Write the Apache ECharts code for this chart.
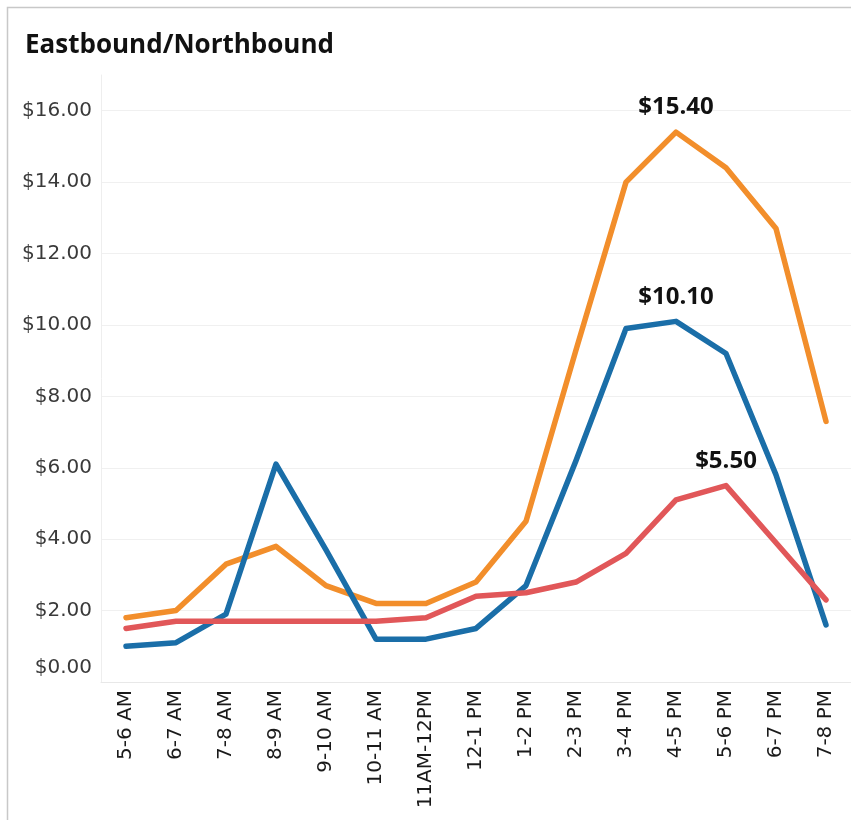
<html>
<head>
    <meta charset='UTF-8'>
    <script src='https://cdn.jsdelivr.net/npm/echarts@6/dist/echarts.min.js'></script>
    <style>
        html, body { margin: 0; padding: 0; background: #fff; }
        #chart { width: 851px; height: 820px; }
    </style>
</head>
<body>
    <div id="chart"></div>
    <script>
        // hour buckets
        const hours = ['5-6 AM', '6-7 AM', '7-8 AM', '8-9 AM', '9-10 AM', '10-11 AM', '11AM-12PM',
            '12-1 PM', '1-2 PM', '2-3 PM', '3-4 PM', '4-5 PM', '5-6 PM', '6-7 PM', '7-8 PM']

        // toll per segment
        const orangeToll = [1.8, 2.0, 3.3, 3.8, 2.7, 2.2, 2.2, 2.8, 4.5, 9.3, 14.0, 15.4, 14.4, 12.7, 7.3]
        const blueToll = [1.0, 1.1, 1.9, 6.1, 3.7, 1.2, 1.2, 1.5, 2.7, 6.2, 9.9, 10.1, 9.2, 5.8, 1.6]
        const redToll = [1.5, 1.7, 1.7, 1.7, 1.7, 1.7, 1.8, 2.4, 2.5, 2.8, 3.6, 5.1, 5.5, 3.9, 2.3]

        const yTicks = { min: 0, max: 17, interval: 2 }

        const money = v => '$' + v.toFixed(2)

        function lineSeries(name, data, color) {
            const top = Math.max(...data)
            return {
                name: name,
                type: 'line',
                data: data,
                symbol: 'circle',
                symbolSize: 1,
                showSymbol: true,
                lineStyle: { color: color, width: 5.5, cap: 'round', join: 'round' },
                itemStyle: { color: color },
                label: {
                    show: true,
                    position: 'top',
                    distance: 12,
                    color: '#111',
                    fontFamily: 'Open Sans',
                    fontWeight: 'bold',
                    fontSize: 24,
                    formatter: p => p.value === top ? money(p.value) : ''
                },
                emphasis: { disabled: true }
            }
        }

        const myChart = echarts.init(document.getElementById('chart'))
        myChart.setOption({
            animation: false,
            title: {
                text: 'Eastbound/Northbound',
                left: 20,
                top: 28,
                textStyle: { fontFamily: 'Open Sans', fontWeight: 'bold', fontSize: 26, color: '#111' }
            },
            graphic: [{
                type: 'rect',
                shape: { x: 7.5, y: 7.5, width: 1000, height: 1000 },
                style: { fill: 'none', stroke: '#c8c8c8', lineWidth: 1.5 },
                silent: true
            }],
            grid: { left: 101, right: 0, top: 75, bottom: 138 },
            xAxis: {
                type: 'category',
                data: hours,
                boundaryGap: true,
                axisLine: { show: true, lineStyle: { color: '#e8e8e8', width: 1 } },
                axisTick: { show: false },
                axisLabel: {
                    rotate: 90,
                    margin: 8,
                    color: '#1a1a1a',
                    fontFamily: 'DejaVu Sans',
                    fontSize: 20,
                    interval: 0
                }
            },
            yAxis: {
                type: 'value',
                min: yTicks.min,
                max: yTicks.max,
                interval: yTicks.interval,
                axisLine: { show: true, lineStyle: { color: '#eeeeee', width: 1 } },
                axisTick: { show: false },
                splitLine: { show: true, showMaxLine: false, lineStyle: { color: '#f0f0f0', width: 1 } },
                axisLabel: {
                    showMaxLabel: false,
                    margin: 9,
                    color: '#3a3a3a',
                    fontFamily: 'DejaVu Sans',
                    fontSize: 20,
                    formatter: v => v === 0 ? '{z|' + money(v) + '}' : money(v),
                    rich: { z: { padding: [0, 0, 28, 0], fontFamily: 'DejaVu Sans', fontSize: 20, color: '#3a3a3a' } }
                }
            },
            series: [
                lineSeries('Orange', orangeToll, '#f28e2b'),
                lineSeries('Blue', blueToll, '#1a6ea8'),
                lineSeries('Red', redToll, '#e15759')
            ]
        })
    </script>
</body>
</html>
